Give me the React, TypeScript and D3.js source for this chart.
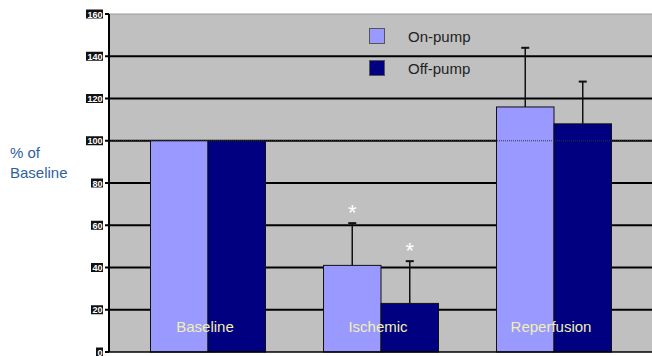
import React from "react";
import * as d3 from "d3";

const categories = ["Baseline", "Ischemic", "Reperfusion"];
const seriesNames = ["On-pump", "Off-pump"];
const onPump = [100, 41, 116];
const offPump = [100, 23, 108];
const onPumpErr = [0, 61, 144];
const offPumpErr = [0, 43, 128];
const significant = [false, true, false];
const yTicks = [0, 20, 40, 60, 80, 100, 120, 140, 160];

const colors = ["#9999ff", "#000080"];

const App = () => {
    const width = 652;
    const height = 356;
    const left = 109;
    const right = 652;
    const top = 14;
    const bottom = 352;

    const y = d3.scaleLinear().domain([0, 160]).range([bottom, top]);
    const x = d3.scaleBand().domain(categories).range([121.5, 640.5]).padding(0);
    const inner = d3
        .scaleBand()
        .domain(seriesNames)
        .range([0, x.bandwidth()])
        .paddingInner(0)
        .paddingOuter(0.5 * (1 - 115 / x.bandwidth()) / (115 / x.bandwidth() / 2));

    const series = [
        { name: seriesNames[0], values: onPump, err: onPumpErr, color: colors[0] },
        { name: seriesNames[1], values: offPump, err: offPumpErr, color: colors[1] },
    ];

    return (
        <svg
            width={width}
            height={height}
            style={{ position: "absolute", left: 0, top: 0, background: "#fff" }}
        >
            <rect x={left} y={top} width={right - left} height={bottom - top} fill="#c0c0c0" />
            {yTicks.map((t) => (
                <g key={t}>
                    {t > 0 && (
                        <line
                            x1={left}
                            x2={right}
                            y1={y(t)}
                            y2={y(t)}
                            stroke={t === 160 ? "#999" : "#000"}
                            strokeWidth={t === 160 ? 1 : 2}
                        />
                    )}
                    <line x1={left - 4} x2={left} y1={y(t)} y2={y(t)} stroke="#000" strokeWidth={2} />
                    <rect
                        x={t >= 100 ? 86 : t === 0 ? 96 : 91}
                        y={y(t) - 4.5}
                        width={t >= 100 ? 17 : t === 0 ? 7 : 12}
                        height={9}
                        fill="#111"
                    />
                    <text
                        x={102.5}
                        y={y(t) + 3.5}
                        textAnchor="end"
                        fontFamily="Arial, Liberation Sans, sans-serif"
                        fontSize={9}
                        fontWeight="bold"
                        fill="#fff"
                    >
                        {t}
                    </text>
                </g>
            ))}

            {categories.map((c, i) => (
                <g key={c}>
                    {series.map((s) => {
                        const bx = (x(c) as number) + (inner(s.name) as number);
                        const bw = inner.bandwidth();
                        return (
                            <g key={s.name}>
                                {s.err[i] > s.values[i] && (
                                    <g>
                                        <line
                                            x1={bx + bw / 2}
                                            x2={bx + bw / 2}
                                            y1={y(s.values[i])}
                                            y2={y(s.err[i])}
                                            stroke="#111"
                                            strokeWidth={1.5}
                                        />
                                        <line
                                            x1={bx + bw / 2 - 4}
                                            x2={bx + bw / 2 + 4}
                                            y1={y(s.err[i])}
                                            y2={y(s.err[i])}
                                            stroke="#111"
                                            strokeWidth={2}
                                        />
                                    </g>
                                )}
                                <rect
                                    x={bx}
                                    y={y(s.values[i])}
                                    width={bw}
                                    height={y(0) - y(s.values[i])}
                                    fill={s.color}
                                    stroke="#111"
                                    strokeWidth={1}
                                />
                                {significant[i] && (
                                    <text
                                        x={bx + bw / 2}
                                        y={y(s.err[i]) - 3}
                                        textAnchor="middle"
                                        fontFamily="Arial, Liberation Sans, sans-serif"
                                        fontSize={22}
                                        fill="#fff"
                                    >
                                        *
                                    </text>
                                )}
                            </g>
                        );
                    })}
                    <text
                        x={(x(c) as number) + x.bandwidth() / 2 - 3}
                        y={332}
                        textAnchor="middle"
                        fontFamily="Arial, Liberation Sans, sans-serif"
                        fontSize={15}
                        fill="#f0f0b0"
                    >
                        {c}
                    </text>
                </g>
            ))}

            <line
                x1={left}
                x2={right}
                y1={y(100)}
                y2={y(100)}
                stroke="#333"
                strokeWidth={1}
                strokeDasharray="1,1"
            />
            <line x1={left} x2={left} y1={top} y2={bottom} stroke="#000" strokeWidth={2} />
            <line x1={left} x2={right} y1={bottom} y2={bottom} stroke="#000" strokeWidth={1.5} />

            {series.map((s, i) => (
                <g key={s.name} transform={`translate(369,${28 + i * 32})`}>
                    <rect x={0.5} y={0.5} width={15} height={15} fill={s.color} stroke="#555" />
                    <text
                        x={39}
                        y={14}
                        fontFamily="Arial, Liberation Sans, sans-serif"
                        fontSize={15}
                        fill="#222"
                    >
                        {s.name}
                    </text>
                </g>
            ))}

            <text fontFamily="Arial, Liberation Sans, sans-serif" fontSize={15} fill="#2f5f9f">
                <tspan x={10} y={158}>% of</tspan>
                <tspan x={10} y={178}>Baseline</tspan>
            </text>
        </svg>
    );
};

export default App;
